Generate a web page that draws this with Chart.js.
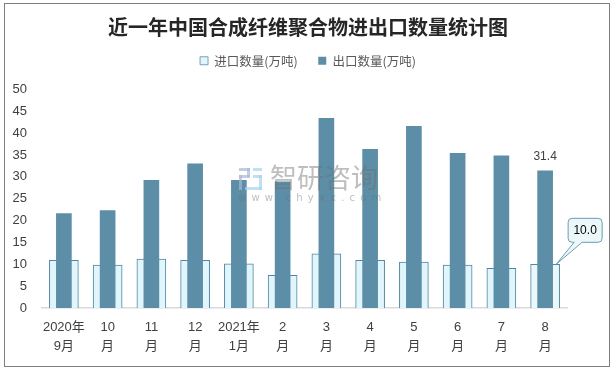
<!DOCTYPE html>
<html>
<head>
<meta charset="utf-8">
<title>近一年中国合成纤维聚合物进出口数量统计图</title>
<script src="https://cdn.jsdelivr.net/npm/chart.js@4/dist/chart.umd.min.js"></script>
<style>
    html, body { margin: 0; padding: 0; background: #fff; }
    canvas { display: block; }
</style>
</head>
<body>
<canvas id="chart" width="616" height="371"></canvas>
<script>
// chart data
const chartTitle = '近一年中国合成纤维聚合物进出口数量统计图';
const months = [['2020年', '9月'], ['10', '月'], ['11', '月'], ['12', '月'], ['2021年', '1月'], ['2', '月'],
    ['3', '月'], ['4', '月'], ['5', '月'], ['6', '月'], ['7', '月'], ['8', '月']];
const importValues = [10.9, 9.8, 11.2, 10.9, 10.1, 7.5, 12.4, 10.9, 10.5, 9.8, 9.1, 10.0];
const exportValues = [21.6, 22.3, 29.2, 33.0, 29.2, 28.9, 43.4, 36.3, 41.6, 35.4, 34.8, 31.4];
const yTicks = [0, 5, 10, 15, 20, 25, 30, 35, 40, 45, 50];

const fontFamily = '"Liberation Sans", "Noto Sans CJK SC", sans-serif';
const textColor = '#404040';
const lastIndex = months.length - 1;

// outer frame of the picture
const framePlugin = {
    id: 'frame',
    beforeDraw(chart) {
        const ctx = chart.ctx;
        ctx.save();
        ctx.strokeStyle = '#7f7f7f';
        ctx.lineWidth = 1;
        ctx.strokeRect(4.5, 3.5, 605, 363);
        ctx.restore();
    }
};

// the value label and the callout on the last month, anchored on their bars
const labelPlugin = {
    id: 'lastLabels',
    afterDatasetsDraw(chart) {
        const ctx = chart.ctx;
        const exportBar = chart.getDatasetMeta(1).data[lastIndex];
        const importBar = chart.getDatasetMeta(0).data[lastIndex];
        ctx.save();
        ctx.font = '12px ' + fontFamily;
        ctx.fillStyle = textColor;
        ctx.textAlign = 'center';
        ctx.textBaseline = 'middle';
        ctx.fillText(exportValues[lastIndex].toFixed(1), exportBar.x, exportBar.y - 14);

        const tipX = importBar.x + 11;
        const tipY = importBar.y;
        const left = tipX + 12, top = tipY - 46, w = 34, h = 24, r = 4;
        ctx.beginPath();
        ctx.moveTo(left + r, top);
        ctx.lineTo(left + w - r, top);
        ctx.quadraticCurveTo(left + w, top, left + w, top + r);
        ctx.lineTo(left + w, top + h - r);
        ctx.quadraticCurveTo(left + w, top + h, left + w - r, top + h);
        ctx.lineTo(left + 14, top + h);
        ctx.lineTo(tipX, tipY);
        ctx.lineTo(left + 6, top + h);
        ctx.lineTo(left + r, top + h);
        ctx.quadraticCurveTo(left, top + h, left, top + h - r);
        ctx.lineTo(left, top + r);
        ctx.quadraticCurveTo(left, top, left + r, top);
        ctx.closePath();
        ctx.fillStyle = '#ebf7f8';
        ctx.fill();
        ctx.strokeStyle = '#6c9db5';
        ctx.lineWidth = 1;
        ctx.stroke();
        ctx.fillStyle = '#000';
        ctx.fillText(importValues[lastIndex].toFixed(1), left + w / 2, top + h / 2);
        ctx.restore();
    }
};

// watermark sits over the bars
const watermarkPlugin = {
    id: 'watermark',
    afterDraw(chart) {
        const ctx = chart.ctx;
        ctx.save();
        ctx.globalAlpha = 0.7;
        ctx.fillStyle = '#a9b6d8';
        ctx.fillRect(239, 168, 11, 3);
        ctx.fillRect(247, 168, 3, 9);
        ctx.fillRect(239, 175, 11, 3);
        ctx.fillRect(239, 175, 3, 15);
        ctx.fillStyle = '#a5d3f0';
        ctx.fillRect(253, 168, 9, 3);
        ctx.fillRect(253, 175, 9, 3);
        ctx.fillRect(259, 175, 3, 15);
        ctx.fillRect(245, 187, 17, 3);
        ctx.globalAlpha = 0.45;
        ctx.fillStyle = '#6f6f6f';
        ctx.textBaseline = 'middle';
        ctx.textAlign = 'left';
        ctx.font = '27px "Noto Sans CJK SC", sans-serif';
        ctx.fillText('智研咨询', 270, 178);
        ctx.font = '10px "DejaVu Sans", sans-serif';
        ctx.letterSpacing = '5.2px';
        ctx.fillText('www.chyxx.com', 238, 198);
        ctx.restore();
    }
};

new Chart(document.getElementById('chart'), {
    type: 'bar',
    data: {
        labels: months,
        datasets: [
            {
                label: '进口数量(万吨)',
                data: importValues,
                order: 2,
                barThickness: 29,
                backgroundColor: ctx => ctx.dataIndex === lastIndex ? '#ebf7f8' : '#e1f5fc',
                borderColor: '#4f87a0',
                borderWidth: { top: 1, left: 1, right: 1, bottom: 0 },
                xAxisID: 'x',
                yAxisID: 'y'
            },
            {
                label: '出口数量(万吨)',
                data: exportValues,
                order: 1,
                barThickness: 15,
                backgroundColor: '#5c8ea7',
                borderColor: '#5c8ea7',
                borderWidth: 0,
                xAxisID: 'x',
                yAxisID: 'y'
            }
        ]
    },
    options: {
        responsive: false,
        animation: false,
        layout: { padding: { top: 20, left: 0, right: 0, bottom: 0 } },
        plugins: {
            title: {
                display: true,
                text: chartTitle,
                color: '#262626',
                padding: 0,
                font: { family: '"Noto Sans CJK SC", sans-serif', size: 20, weight: 'bold', lineHeight: 0.7 }
            },
            legend: {
                display: true,
                labels: {
                    color: '#595959',
                    boxWidth: 8,
                    boxHeight: 8,
                    padding: 20.5,
                    sort: (a, b) => a.datasetIndex - b.datasetIndex,
                    font: { family: '"Noto Sans CJK SC", sans-serif', size: 12.5 }
                }
            },
            tooltip: { enabled: false }
        },
        scales: {
            x: {
                grid: { display: false },
                border: { color: '#d9d9d9', width: 1.5 },
                afterFit: scale => { scale.height = 63; },
                ticks: {
                    autoSkip: false,
                    maxRotation: 0,
                    minRotation: 0,
                    padding: 2,
                    color: textColor,
                    font: { family: fontFamily, size: 13, lineHeight: 1.45 }
                }
            },
            // empty axes only keep the gaps above and right of the plot
            xGap: {
                type: 'category',
                axis: 'x',
                position: 'top',
                grid: { display: false },
                border: { display: false },
                ticks: { display: false },
                afterFit: scale => { scale.height = 12.5; }
            },
            y: {
                min: yTicks[0],
                max: yTicks[yTicks.length - 1],
                afterBuildTicks: scale => { scale.ticks = yTicks.map(v => ({ value: v })); },
                afterFit: scale => { scale.width = 42; },
                grid: { display: false, drawTicks: false },
                border: { display: false },
                ticks: {
                    padding: 15,
                    color: textColor,
                    font: { family: fontFamily, size: 13 }
                }
            },
            yGap: {
                type: 'linear',
                axis: 'y',
                position: 'right',
                grid: { display: false },
                border: { display: false },
                ticks: { display: false },
                afterFit: scale => { scale.width = 49; }
            }
        },
        datasets: { bar: { grouped: false } }
    },
    plugins: [framePlugin, labelPlugin, watermarkPlugin]
});
</script>
</body>
</html>
